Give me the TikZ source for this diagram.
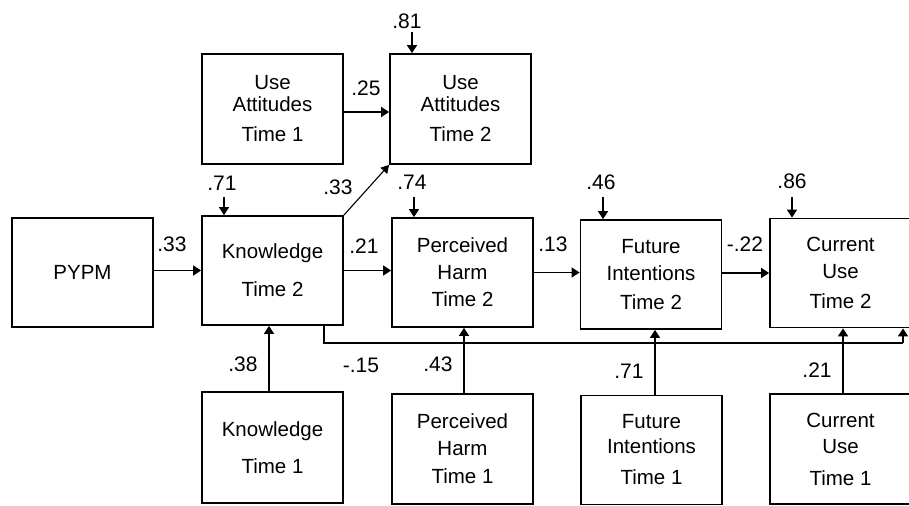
\documentclass[tikz,border=0pt]{standalone}
\usepackage{fontspec}
\setmainfont{Liberation Sans}
\usetikzlibrary{arrows.meta}
\begin{document}
\begin{tikzpicture}[x=1bp,y=-1bp,
  box/.style={draw, line width=1.8bp, minimum width=141bp, minimum height=109bp, inner sep=0pt, align=center, font=\fontsize{20.5bp}{27bp}\selectfont},
  lbl/.style={inner sep=0pt, font=\fontsize{21bp}{24bp}\selectfont},
  arr/.style={line width=1.6bp, -{Triangle[length=8bp,width=10bp]}},
  thinarr/.style={line width=1.1bp, -{Triangle[length=8bp,width=9bp]}},
  link/.style={line width=1.6bp},
]
\useasboundingbox (0,0) rectangle (909,506);
% boxes
\node[box] (pypm) at (82.5,272.5) {PYPM};
\node[box, minimum height=110bp] (ua1) at (272.5,109) {Use\\[-5bp]Attitudes\\[3bp]Time 1};
\node[box, minimum height=110bp] (ua2) at (460.5,109) {Use\\[-5bp]Attitudes\\[3bp]Time 2};
\node[box] (k2) at (272.5,270.5) {Knowledge\\[11bp]Time 2};
\node[box] (ph2) at (462.5,272.5) {Perceived\\Harm\\Time 2};
\node[box] (fi2) at (651,274.5) {Future\\Intentions\\[2bp]Time 2};
\node[box] (cu2) at (840.5,273) {Current\\Use\\[3bp]Time 2};
\node[box, minimum height=111bp] (k1) at (272.5,447.5) {Knowledge\\[10bp]Time 1};
\node[box, minimum height=110bp] (ph1) at (462.5,449) {Perceived\\Harm\\[1bp]Time 1};
\node[box] (fi1) at (651.5,450) {Future\\[-2bp]Intentions\\[4bp]Time 1};
\node[box, minimum height=110bp] (cu1) at (840.5,449) {Current\\[-1bp]Use\\[5bp]Time 1};
% structural paths
\draw[arr] (pypm.east |- k2.west) -- (k2.west);
\draw[arr] (k2.east) -- (ph2.west |- k2.east);
\draw[arr] (ph2.east) -- (fi2.west |- ph2.east);
\draw[arr] (fi2.east |- cu2.west) -- (cu2.west);
\draw[arr] ([yshift=-3bp]ua1.east) -- ([yshift=-3bp]ua1.east -| ua2.west);
\draw[thinarr] (k2.north east) -- (ua2.south west);
% time-1 paths
\draw[arr] ([xshift=-3.5bp]k1.north) -- ([xshift=-3.5bp]k1.north |- k2.south);
\draw[arr] ([xshift=1.5bp]ph1.north) -- ([xshift=1.5bp]ph1.north |- ph2.south);
\draw[arr] ([xshift=3.5bp]fi1.north) -- ([xshift=3.5bp]fi1.north |- fi2.south);
\draw[arr] ([xshift=2.5bp]cu1.north) -- ([xshift=2.5bp]cu1.north |- cu2.south);
% feedback path
\coordinate (fb) at (323,343);
\draw[link] ([xshift=-20bp]k2.south east) -- ([xshift=-20bp]k2.south east |- fb) -- (fb -| 903,0) coordinate (fbr);
\draw[arr] (fbr) -- (fbr |- cu2.south);
% disturbance arrows
\coordinate (e81) at (412,32);
\coordinate (e71) at (224,197);
\coordinate (e74) at (414,197);
\coordinate (e46) at (603,197);
\coordinate (e86) at (792,197);
\draw[arr] (e81) -- (e81 |- ua2.north);
\draw[arr] (e71) -- (e71 |- k2.north);
\draw[arr] (e74) -- (e74 |- ph2.north);
\draw[arr] (e46) -- (e46 |- fi2.north);
\draw[arr] (e86) -- (e86 |- cu2.north);
% labels
\node[lbl] (l81) at (407,21) {.81};
\node[lbl] (l71a) at (222,183) {.71};
\node[lbl] (l74) at (412,182) {.74};
\node[lbl] (l46) at (601,182) {.46};
\node[lbl] (l86) at (792,181) {.86};
\node[lbl] (l25) at (366,88) {.25};
\node[lbl] (l33d) at (338,187) {.33};
\node[lbl] (l33) at (172,244) {.33};
\node[lbl] (l21a) at (364,246) {.21};
\node[lbl] (l13) at (553,244) {.13};
\node[lbl] (l22) at (745,244) {-.22};
\node[lbl] (l15) at (361,365) {-.15};
\node[lbl] (l38) at (243,364) {.38};
\node[lbl] (l43) at (438,364) {.43};
\node[lbl] (l71b) at (629,371) {.71};
\node[lbl] (l21b) at (817,370) {.21};
\end{tikzpicture}
\end{document}
